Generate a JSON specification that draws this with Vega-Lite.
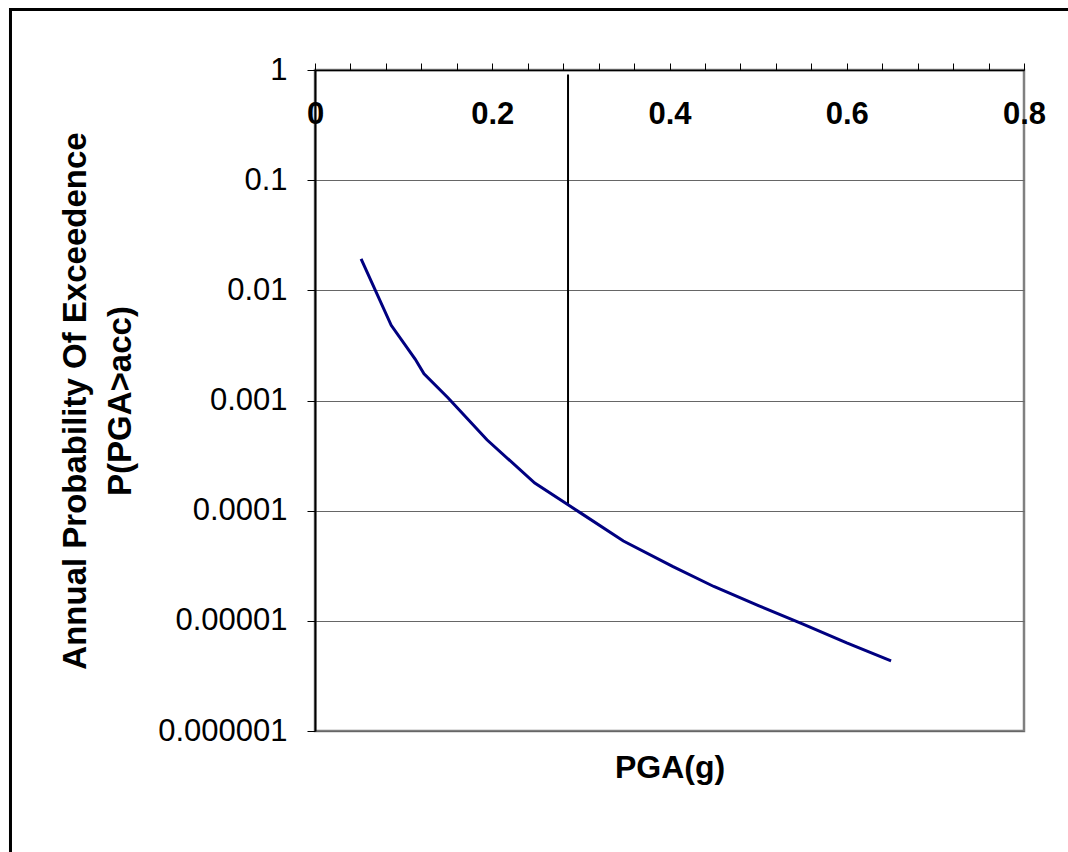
{
  "$schema": "https://vega.github.io/schema/vega-lite/v6.json",
  "width": 709,
  "height": 661,
  "autosize": {"type": "none"},
  "padding": {"left": 315, "top": 70, "right": 44, "bottom": 121},
  "background": "white",
  "config": {
    "view": {"stroke": "#808080", "strokeWidth": 2.5},
    "font": "Liberation Sans",
    "axis": {"labelFont": "Liberation Sans", "titleFont": "Liberation Sans"}
  },
  "datasets": {
    "hazard": [
      {"pga": 0.052, "p": 0.0193},
      {"pga": 0.086, "p": 0.00481},
      {"pga": 0.113, "p": 0.00238},
      {"pga": 0.123, "p": 0.00175},
      {"pga": 0.15, "p": 0.00106},
      {"pga": 0.194, "p": 0.00044},
      {"pga": 0.248, "p": 0.000178},
      {"pga": 0.3, "p": 0.000095},
      {"pga": 0.348, "p": 0.000053},
      {"pga": 0.404, "p": 0.000031},
      {"pga": 0.45, "p": 0.0000205},
      {"pga": 0.501, "p": 0.0000137},
      {"pga": 0.55, "p": 0.0000094},
      {"pga": 0.6, "p": 0.0000063},
      {"pga": 0.65, "p": 0.00000433}
    ],
    "marker": [
      {"pga": 0.2855, "p_top": 0.91, "p_bottom": 0.000112}
    ]
  },
  "layer": [
    {
      "data": {"values": [{"frame": 1}]},
      "mark": {"type": "rect", "filled": false, "stroke": "black", "strokeWidth": 3, "clip": false},
      "encoding": {
        "x": {"datum": -0.3436, "type": "quantitative", "scale": {"domain": [0, 0.8], "nice": false, "zero": false}, "axis": null},
        "x2": {"datum": 0.88},
        "y": {
          "datum": 3.54, "type": "quantitative",
          "scale": {"type": "log", "domain": [0.000001, 1], "nice": false},
          "axis": {
            "values": [1, 0.1, 0.01, 0.001, 0.0001, 0.00001, 0.000001],
            "format": ".6~f",
            "labelFontSize": 31, "labelColor": "black", "labelPadding": 20,
            "labelOverlap": false, "labelFlush": false,
            "tickSize": 8, "tickColor": "black", "tickWidth": 1,
            "domainColor": "black", "domainWidth": 2,
            "grid": true, "gridColor": "#666666", "gridWidth": 1,
            "title": ["Annual Probability Of Exceedence", "P(PGA>acc)"],
            "titleFontSize": 33, "titleFontWeight": "bold", "titleColor": "black",
            "titleLineHeight": 45, "titlePadding": 20
          }
        },
        "y2": {"datum": 0.00000001}
      }
    },
    {
      "data": {"name": "marker"},
      "mark": {"type": "rule", "color": "black", "strokeWidth": 2},
      "encoding": {
        "x": {
          "field": "pga", "type": "quantitative",
          "scale": {"domain": [0, 0.8], "nice": false, "zero": false},
          "axis": {
            "orient": "bottom", "title": "PGA(g)", "titleFontSize": 32, "titleFontWeight": "bold",
            "titleColor": "black", "titlePadding": 21, "labels": false, "ticks": false,
            "domain": false, "grid": false
          }
        },
        "y": {
          "field": "p_top", "type": "quantitative",
          "scale": {"type": "log", "domain": [0.000001, 1], "nice": false},
          "axis": {
            "values": [1, 0.1, 0.01, 0.001, 0.0001, 0.00001, 0.000001],
            "format": ".6~f",
            "labelFontSize": 31, "labelColor": "black", "labelPadding": 20,
            "labelOverlap": false, "labelFlush": false,
            "tickSize": 8, "tickColor": "black", "tickWidth": 1,
            "domainColor": "black", "domainWidth": 2,
            "grid": true, "gridColor": "#666666", "gridWidth": 1,
            "title": ["Annual Probability Of Exceedence", "P(PGA>acc)"],
            "titleFontSize": 33, "titleFontWeight": "bold", "titleColor": "black",
            "titleLineHeight": 45, "titlePadding": 20
          }
        },
        "y2": {"field": "p_bottom"}
      }
    },
    {
      "data": {"name": "hazard"},
      "mark": {"type": "line", "color": "#000080", "strokeWidth": 3},
      "encoding": {
        "x": {
          "field": "pga", "type": "quantitative",
          "scale": {"domain": [0, 0.8], "nice": false, "zero": false},
          "axis": {
            "orient": "top",
            "values": [0, 0.04, 0.08, 0.12, 0.16, 0.2, 0.24, 0.28, 0.32, 0.36, 0.4, 0.44, 0.48, 0.52, 0.56, 0.6, 0.64, 0.68, 0.72, 0.76, 0.8],
            "labelExpr": "abs(datum.value*5 - round(datum.value*5)) < 0.001 ? format(datum.value, '.1~f') : ''",
            "labelFontSize": 31, "labelFontWeight": "bold", "labelColor": "black",
            "labelPadding": -51, "labelBaseline": "middle", "labelFlush": false,
            "labelOverlap": false, "labelBound": false,
            "tickSize": 7, "tickColor": "black", "tickWidth": 1,
            "domainColor": "black", "domainWidth": 1.5,
            "grid": false, "title": null
          }
        },
        "y": {
          "field": "p", "type": "quantitative",
          "scale": {"type": "log", "domain": [0.000001, 1], "nice": false},
          "axis": {
            "values": [1, 0.1, 0.01, 0.001, 0.0001, 0.00001, 0.000001],
            "format": ".6~f",
            "labelFontSize": 31, "labelColor": "black", "labelPadding": 20,
            "labelOverlap": false, "labelFlush": false,
            "tickSize": 8, "tickColor": "black", "tickWidth": 1,
            "domainColor": "black", "domainWidth": 2,
            "grid": true, "gridColor": "#666666", "gridWidth": 1,
            "title": ["Annual Probability Of Exceedence", "P(PGA>acc)"],
            "titleFontSize": 33, "titleFontWeight": "bold", "titleColor": "black",
            "titleLineHeight": 45, "titlePadding": 20
          }
        }
      }
    }
  ],
  "resolve": {"axis": {"x": "independent"}}
}
